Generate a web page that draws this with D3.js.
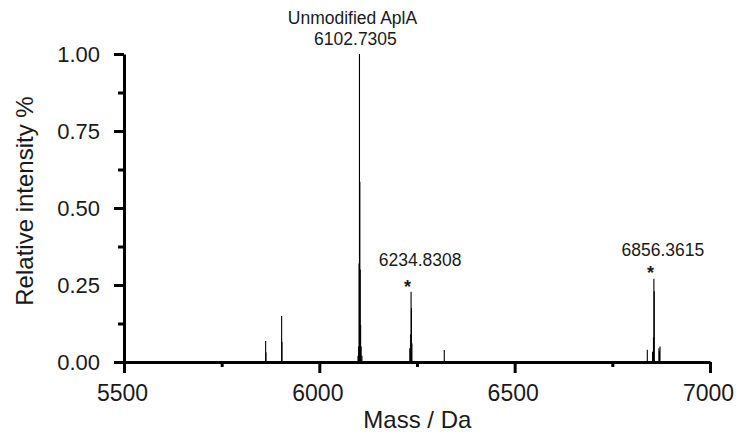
<!DOCTYPE html>
<html>
<head>
<meta charset="utf-8">
<script src="https://cdn.jsdelivr.net/npm/d3@7"></script>
<style>
  body { margin: 0; background: #fff; }
  text { font-family: "Liberation Sans", Arial, sans-serif; fill: #1a1a1a; }
</style>
</head>
<body>
<div id="chart"></div>
<script>
// stick spectrum (mass in Da, relative intensity)
var peakMass = [
  5862.6, 5863.4,
  5903.5, 5904.4,
  6099.0, 6100.5, 6101.7, 6102.73, 6103.7, 6104.7, 6105.7, 6107.0, 6109.0,
  6231.5, 6233.8, 6234.83, 6235.8, 6237.0,
  6319.8,
  6839.5, 6853.0, 6855.3, 6856.36, 6857.3, 6869.3, 6870.5, 6872.0
];
var peakIntensity = [
  0.068, 0.032,
  0.149, 0.066,
  0.020, 0.050, 0.320, 1.000, 0.585, 0.300, 0.120, 0.050, 0.020,
  0.045, 0.090, 0.228, 0.175, 0.060,
  0.039,
  0.040, 0.033, 0.080, 0.270, 0.230, 0.045, 0.035, 0.050
];

var xMajorTicks = [5500, 6000, 6500, 7000];
var xMinorTicks = [5750, 6250, 6750];
var yMajorTicks = [0, 0.25, 0.5, 0.75, 1.0];
var yMinorTicks = [0.125, 0.375, 0.625, 0.875];

var labelText = ["Unmodified AplA", "6102.7305", "6234.8308", "6856.3615"];
var starMass = [6234.83, 6856.36];
var starIntensity = [0.228, 0.27];

var iWidth = 741, iHeight = 435;
var oMargin = { iLeft: 124, iTop: 54, iRight: 31, iBottom: 73 };
var w = iWidth - oMargin.iLeft - oMargin.iRight;
var h = iHeight - oMargin.iTop - oMargin.iBottom;

var dSVG = d3.select("#chart").append("svg")
    .attr("width", iWidth)
    .attr("height", iHeight);

var dG = dSVG.append("g")
    .attr("transform", "translate(" + oMargin.iLeft + "," + oMargin.iTop + ")");

var x = d3.scaleLinear().domain([5500, 7000]).range([0, w]);
var y = d3.scaleLinear().domain([0, 1]).range([h, 0]);

// peaks
dG.selectAll("line.peak").data(peakMass).enter().append("line")
    .attr("class", "peak")
    .attr("x1", function(d) { return x(d); })
    .attr("x2", function(d) { return x(d); })
    .attr("y1", y(0))
    .attr("y2", function(d, i) { return y(peakIntensity[i]); })
    .style("stroke", "#000")
    .style("stroke-width", 1.1);

// minor ticks first, then the major axes on top
dG.append("g").attr("transform", "translate(0," + h + ")")
    .call(d3.axisBottom(x).tickValues(xMinorTicks).tickSize(5).tickFormat(""))
    .call(function(g) { g.select(".domain").remove(); });
dG.append("g")
    .call(d3.axisLeft(y).tickValues(yMinorTicks).tickSize(6).tickFormat(""))
    .call(function(g) { g.select(".domain").remove(); });

var xAxis = dG.append("g").attr("transform", "translate(0," + h + ")")
    .call(d3.axisBottom(x).tickValues(xMajorTicks).tickSize(11).tickSizeOuter(0)
        .tickPadding(12).tickFormat(d3.format("d")));
var yAxis = dG.append("g")
    .call(d3.axisLeft(y).tickValues(yMajorTicks).tickSize(10).tickSizeOuter(0)
        .tickPadding(14).tickFormat(d3.format(".2f")));

[xAxis, yAxis].forEach(function(a) {
    a.selectAll("path, line").style("stroke", "#000").style("stroke-width", 3);
    a.selectAll("text").style("font-size", "22px").style("font-family", "Liberation Sans, Arial, sans-serif").style("fill", "#1a1a1a");
});
xAxis.selectAll("text").style("font-size", "23px").attr("dx", -2);
dG.selectAll("g.tick line").style("stroke", "#000").style("stroke-width", 3);

// axis titles
dSVG.append("text")
    .attr("x", oMargin.iLeft + x(6000) + 98)
    .attr("y", 428)
    .attr("text-anchor", "middle")
    .style("font-size", "24px")
    .text("Mass / Da");

dSVG.append("text")
    .attr("transform", "translate(33," + (oMargin.iTop + 147) + ") rotate(-90)")
    .attr("text-anchor", "middle")
    .style("font-size", "24px")
    .text("Relative intensity %");

// annotations
var ann = [
    { t: labelText[0], m: 6102.73, dy: -30, dx: -7 },
    { t: labelText[1], m: 6102.73, dy: -9, dx: -4 },
    { t: labelText[2], m: 6234.83, v: 0.228, dy: -26, dx: 9 },
    { t: labelText[3], m: 6856.36, v: 0.27, dy: -23, dx: 9 }
];
dG.selectAll("text.ann").data(ann).enter().append("text")
    .attr("class", "ann")
    .attr("x", function(d) { return x(d.m) + d.dx; })
    .attr("y", function(d) { return y(d.v || 1) + d.dy; })
    .attr("text-anchor", "middle")
    .style("font-size", "17.5px")
    .text(function(d) { return d.t; });

dG.selectAll("text.star").data(starMass).enter().append("text")
    .attr("class", "star")
    .attr("x", function(d) { return x(d) - 3.5; })
    .attr("y", function(d, i) { return y(starIntensity[i]) + 1 - i; })
    .attr("text-anchor", "middle")
    .style("font-size", "18px")
    .style("font-weight", "bold")
    .text("*");
</script>
</body>
</html>
